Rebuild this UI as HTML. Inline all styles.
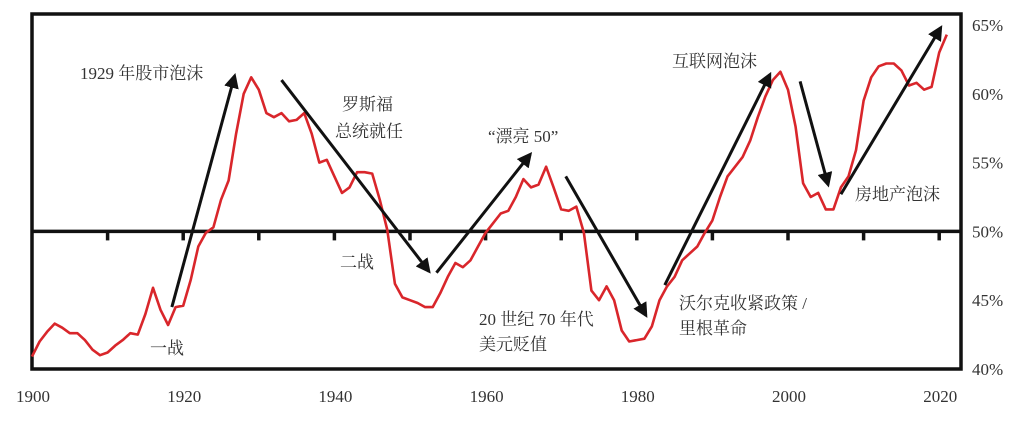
<!DOCTYPE html>
<html><head><meta charset="utf-8"><style>
html,body{margin:0;padding:0;background:#fff;}
svg{display:block;}
text{font-family:"Liberation Serif","Noto Serif CJK SC",serif;fill:#333;}
</style></head><body>
<svg id="chart" width="1033" height="421">
<defs><marker id="ah" viewBox="0 0 10 10" refX="8" refY="5" markerWidth="5" markerHeight="5" orient="auto"><path d="M0,0 L10,5 L0,10 z" fill="#111"/></marker></defs>
<g id="grid"></g>
<g id="series"></g>
<g id="arrows"></g>
<g id="labels"></g>
</svg>
<script>
const years = [];
for (let y = 1900; y <= 2021; y++) years.push(y);
const values = [40.9,42.0,42.7,43.3,43.0,42.6,42.6,42.1,41.4,41.0,41.2,41.7,42.1,42.6,42.5,44.0,45.9,44.3,43.2,44.5,44.6,46.5,48.9,49.9,50.3,52.3,53.7,57.1,60.0,61.2,60.3,58.6,58.3,58.6,58.0,58.1,58.6,57.1,55.0,55.2,54.0,52.8,53.2,54.3,54.3,54.2,52.3,50.1,46.2,45.2,45.0,44.8,44.5,44.5,45.5,46.7,47.7,47.4,47.9,48.9,49.9,50.6,51.3,51.5,52.5,53.8,53.2,53.4,54.7,53.2,51.6,51.5,51.8,49.9,45.7,45.0,46.0,45.0,42.8,42.0,42.1,42.2,43.1,45.0,46.0,46.7,47.9,48.4,48.9,49.9,50.8,52.5,54.0,54.7,55.4,56.6,58.3,59.8,61.0,61.6,60.3,57.6,53.5,52.5,52.8,51.6,51.6,53.2,54.0,55.9,59.5,61.2,62.0,62.2,62.2,61.7,60.6,60.8,60.3,60.5,63.0,64.3];
const yTicks = [40,45,50,55,60,65];
const xLabels = [1900,1920,1940,1960,1980,2000,2020];
const xTicks = [1910,1920,1930,1940,1950,1960,1970,1980,1990,2000,2010,2020];
const arrowsData = [[1918.5,44.5,1926.8,61.3],[1933,61.0,1952.5,47.1],[1953.5,47.0,1965.9,55.6],[1970.6,54.0,1981.2,43.9],[1983.7,46.1,1997.6,61.4],[2001.6,60.9,2005.3,53.4],[2007,52.7,2020.2,64.8]];
const x = y => 32 + (y - 1900) * 7.56;
const yv = v => 369 - (v - 40) * 13.76;
const NS = "http://www.w3.org/2000/svg";
function mk(tag, attrs, parent){const e=document.createElementNS(NS,tag);for(const k in attrs)e.setAttribute(k,attrs[k]);parent.appendChild(e);return e;}
const grid=document.getElementById('grid'), series=document.getElementById('series'), arrows=document.getElementById('arrows'), labels=document.getElementById('labels');
let fr=mk('rect',{x:32,y:14,width:929,height:355,fill:'none',stroke:'#111','stroke-width':3.5},grid);


let ml=mk('line',{x1:32,x2:961,y1:yv(50),y2:yv(50),stroke:'#111','stroke-width':3.5},grid);


xTicks.forEach(t=>{const l=mk('line',{x1:x(t),x2:x(t),y1:yv(50),y2:yv(50)+9,stroke:'#111','stroke-width':3.5},grid);

});
xLabels.forEach(t=>{const e=mk('text',{x:x(t)+1,y:402,'text-anchor':'middle','font-size':17},grid);e.textContent=t;

});
yTicks.forEach(t=>{const e=mk('text',{x:972,y:yv(t)+6,'font-size':17},grid);e.textContent=t+'%';

});
const pts=years.map((yr,i)=>x(yr).toFixed(1)+','+yv(values[i]).toFixed(1)).join(' ');
const pl=mk('polyline',{points:pts,fill:'none',stroke:'#d9262b','stroke-width':2.6,'stroke-linejoin':'round'},series);


arrowsData.forEach(a=>{const l=mk('line',{x1:x(a[0]),y1:yv(a[1]),x2:x(a[2]),y2:yv(a[3]),stroke:'#111','stroke-width':3,'marker-end':'url(#ah)'},arrows);

});
const notes=[["1929 年股市泡沫",80,79,'label-1929-bubble'],["罗斯福",342,110,'label-roosevelt'],["总统就任",335,137,'label-roosevelt-2'],["“漂亮 50”",488,142,'label-nifty-fifty'],["二战",340,268,'label-ww2'],["一战",150,354,'label-ww1'],["20 世纪 70 年代",479,325,'label-1970s'],["美元贬值",479,350,'label-1970s-2'],["互联网泡沫",672,67,'label-dotcom'],["沃尔克收紧政策 /",679,309,'label-volcker'],["里根革命",679,334,'label-volcker-2'],["房地产泡沫",855,200,'label-housing']];
notes.forEach(n=>{const e=mk('text',{x:n[1],y:n[2],'font-size':17},labels);e.textContent=n[0];

});
</script>
</body></html>
